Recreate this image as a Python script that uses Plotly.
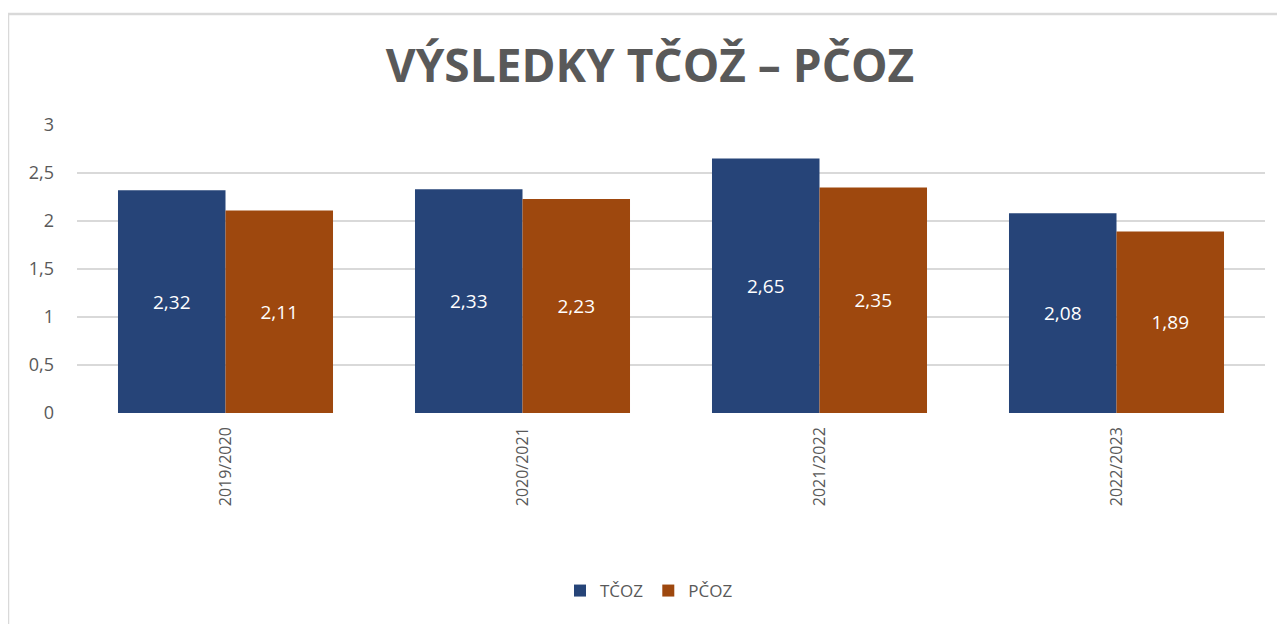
import plotly.graph_objects as go

categories = ["2019/2020", "2020/2021", "2021/2022", "2022/2023"]
tcoz = [2.32, 2.33, 2.65, 2.08]
pcoz = [2.11, 2.23, 2.35, 1.89]
series_names = ["TČOZ", "PČOZ"]
y_ticks = [0, 0.5, 1, 1.5, 2, 2.5, 3]

# the page body adds an 8px offset, so the figure is drawn 8px smaller and shifted
OFF = 8
W, H = 1285 - OFF, 624 - OFF
L, R, T, B = 77 - OFF, 20, 125 - OFF, 211
pw = W - L - R
ph = H - T - B

gray = "#595959"
font_family = "Open Sans, Liberation Sans, sans-serif"

fig = go.Figure()
for name, vals, color in [(series_names[0], tcoz, "#264478"), (series_names[1], pcoz, "#9E480E")]:
    fig.add_trace(go.Bar(
        x=categories, y=vals, name=name,
        marker=dict(color=color, line=dict(width=0)),
        texttemplate="%{y:.2f}", textposition="inside", insidetextanchor="middle",
        textangle=0,
        textfont=dict(color="white", size=19, family=font_family),
    ))

# outer chart border (left and top lines), positions in reference pixels
def px_x(v):
    return (v - OFF - L) / pw

def px_y(v):
    return (H - B - (v - OFF)) / ph

shapes = [
    dict(type="line", xref="paper", yref="paper", x0=px_x(8), x1=px_x(8), y0=px_y(14), y1=px_y(640),
         line=dict(color="#d9d9d9", width=2.5)),
    dict(type="line", xref="paper", yref="paper", x0=px_x(7), x1=px_x(1300), y0=px_y(14), y1=px_y(14),
         line=dict(color="#d9d9d9", width=2.5)),
]

fig.update_layout(
    width=W, height=H,
    margin=dict(l=L, r=R, t=T, b=B, pad=0),
    paper_bgcolor="white", plot_bgcolor="white",
    separators=", ",
    barmode="group", bargap=0.276, bargroupgap=0,
    title=dict(text="<b>VÝSLEDKY TČOŽ – PČOZ</b>", x=(650 - OFF) / W, xanchor="center",
               y=1 - (66 - OFF) / H, yanchor="middle", yref="container", xref="container",
               font=dict(size=46, color=gray, family=font_family)),
    xaxis=dict(tickangle=-90, tickfont=dict(size=16, color=gray, family=font_family),
               showgrid=False, showline=False, ticks="", ticklabelstandoff=10),
    yaxis=dict(range=[0, 3], tickvals=y_ticks, showgrid=True,
               gridcolor="#d9d9d9", gridwidth=2, zeroline=False, showline=False,
               tickfont=dict(size=18, color=gray, family=font_family), ticks="",
               ticklabelstandoff=22),
    legend=dict(orientation="h", x=(649 - OFF) / W, xanchor="center", xref="container",
                y=1 - (591 - OFF) / H, yanchor="middle", yref="container",
                font=dict(size=17, color=gray, family=font_family), itemwidth=30),
    shapes=shapes,
)

fig.write_html("out.html")
